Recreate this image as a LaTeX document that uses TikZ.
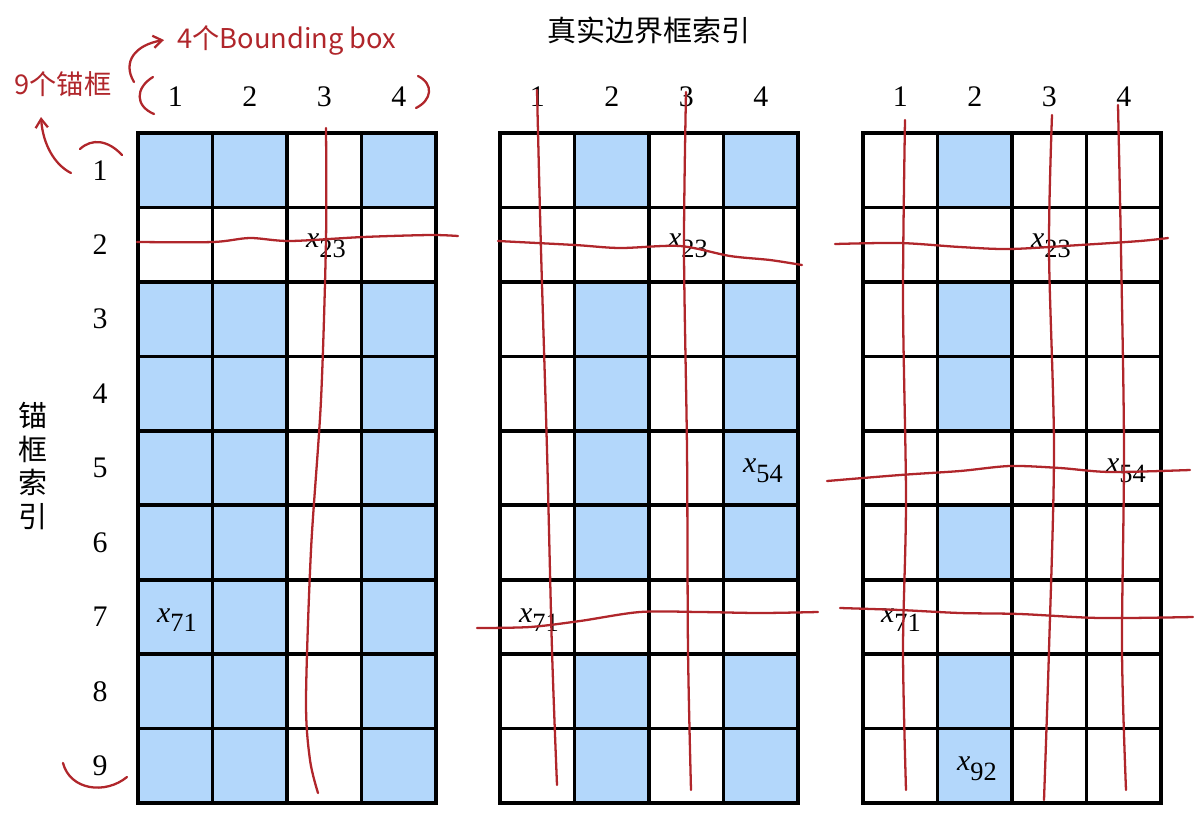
\documentclass[tikz,border=0pt]{standalone}
\usepackage{fontspec}
\setmainfont{Liberation Serif}
\newfontfamily\cjk{Noto Sans CJK SC}
\usetikzlibrary{arrows.meta}
\definecolor{CellBlue}{HTML}{B3D7FB}
\definecolor{InkRed}{HTML}{B0262B}
\newcommand{\xsub}[1]{\textit{x}\raisebox{-0.7ex}{\fontsize{15}{15}\selectfont #1}}

\begin{document}
\begin{tikzpicture}[x=0.02cm,y=-0.02cm, every node/.style={font=\fontsize{17}{20}\selectfont},
  ink/.style={InkRed, line width=1.3pt, line cap=round, line join=round},
  inktext/.style={InkRed, font=\cjk\fontsize{15.5}{18}\selectfont}]
  \useasboundingbox (0,0) rectangle (1194,816);
  % blue cells
  \foreach \r in {1,3,4,5,6,7,8,9}
    \foreach \c in {1,2,4}
      \fill[CellBlue] ({138+(\c-1)*74.5},{133+(\r-1)*74.45}) rectangle ++(74.5,74.45);
  \foreach \r in {1,3,4,5,6,8,9}
    \foreach \c in {2,4}
      \fill[CellBlue] ({500+(\c-1)*74.5},{133+(\r-1)*74.45}) rectangle ++(74.5,74.45);
  \foreach \r in {1,3,4,6,8,9}
    \fill[CellBlue] ({863+74.5},{133+(\r-1)*74.45}) rectangle ++(74.5,74.45);
  % grids
  \foreach \gx in {138,500,863} {
    \foreach \c in {0,...,4}
      \draw[line width=2.1pt] ({\gx+\c*74.5},133) -- ({\gx+\c*74.5},803);
    \foreach \r in {0,...,9}
      \draw[line width=2.1pt, line cap=rect] (\gx,{133+\r*74.45}) -- ({\gx+298},{133+\r*74.45});
  }
  % index labels
  \node[font=\cjk\fontsize{16.5}{20}\selectfont] (title) at (649,30) {真实边界框索引};
  \node[font=\cjk\fontsize{16.5}{20}\selectfont, align=center, inner sep=0pt] (anchoridx) at (33,466)
    {锚\\[-1pt]框\\[-1pt]索\\[-1pt]引};
  \foreach \gx/\g in {138/a,500/b,863/c}
    \foreach \c in {1,...,4}
      \node (col\g\c) at ({\gx+(\c-0.5)*74.5},97) {\c};
  \foreach \r in {1,...,9}
    \node (row\r) at (100,{133+(\r-0.5)*74.45}) {\r};
  % cell entries
  \node (xa23) at (326,246) {\xsub{23}};
  \node (xa71) at (177,620) {\xsub{71}};
  \node (xb23) at (688,246) {\xsub{23}};
  \node (xb54) at (763,471) {\xsub{54}};
  \node (xb71) at (539,620) {\xsub{71}};
  \node (xc23) at (1051,246) {\xsub{23}};
  \node (xc54) at (1126,471) {\xsub{54}};
  \node (xc71) at (901,620) {\xsub{71}};
  \node (xc92) at (977,769) {\xsub{92}};
  % handwritten notes
  \node[inktext] (nineanc) at (63,84) {9个锚框};
  \node[inktext] (fourbox) at (287,40) {4个Bounding box};
  \coordinate (tipfour) at (164,40);
  \coordinate (tipnine) at (41,117);
  \draw[ink, -{Straight Barb[length=5pt,width=7pt]}] (134,82) .. controls (122,62) and (135,45) .. (tipfour);
  \draw[ink, -{Straight Barb[length=5pt,width=7pt]}] (71,173) .. controls (55,165) and (43,145) .. (tipnine);
  \draw[ink] (80,149) .. controls (92,138) and (108,140) .. (122,155);
  \draw[ink] (153,77) .. controls (135,88) and (135,106) .. (154,114);
  \draw[ink] (418,76) .. controls (434,84) and (432,100) .. (416,108);
  \draw[ink] (63,763) .. controls (70,790) and (105,795) .. (127,777);
  % red strokes, grid 1
  \draw[ink] plot[smooth] coordinates {(137,242) (213,242) (250,238) (290,241) (363,237) (430,235) (458,236)};
  \draw[ink] plot[smooth] coordinates {(326,128) (326,240) (321,400) (311,550) (306,700) (310,760) (318,793)};
  % red strokes, grid 2
  \draw[ink] plot[smooth] coordinates {(537,90) (541,250) (547,450) (552,650) (557,785)};
  \draw[ink] plot[smooth] coordinates {(686,92) (684,250) (687,450) (688,650) (691,790)};
  \draw[ink] plot[smooth] coordinates {(498,241) (575,245) (620,248) (680,246) (730,256) (770,260) (802,265)};
  \draw[ink] plot[smooth] coordinates {(477,628) (530,627) (580,621) (640,612) (700,612) (760,613) (818,612)};
  % red strokes, grid 3
  \draw[ink] plot[smooth] coordinates {(905,120) (903,300) (906,500) (903,650) (906,790)};
  \draw[ink] plot[smooth] coordinates {(1052,115) (1049,250) (1054,450) (1049,650) (1044,800)};
  \draw[ink] plot[smooth] coordinates {(1118,105) (1121,250) (1124,450) (1122,650) (1126,790)};
  \draw[ink] plot[smooth] coordinates {(835,244) (900,243) (960,247) (1010,249) (1080,245) (1140,241) (1168,238)};
  \draw[ink] plot[smooth] coordinates {(827,481) (900,475) (960,471) (1010,466) (1060,468) (1110,472) (1190,470)};
  \draw[ink] plot[smooth] coordinates {(840,608) (900,610) (960,613) (1020,614) (1100,618) (1193,617)};
\end{tikzpicture}
\end{document}
